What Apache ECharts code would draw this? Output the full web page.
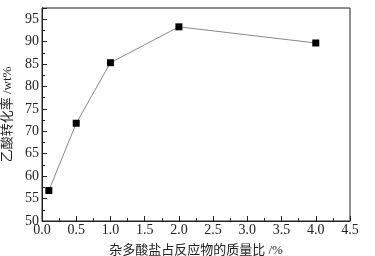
<!DOCTYPE html>
<html>
<head>
<meta charset="utf-8">
<script src="https://cdn.jsdelivr.net/npm/echarts@6/dist/echarts.min.js"></script>
<style>
html,body{margin:0;padding:0;background:#fff;}
#chart{width:375px;height:256px;}
</style>
</head>
<body>
<div id="chart"></div>
<script>
// 杂多酸盐用量 vs 乙酸转化率
var ratio = [0.1, 0.5, 1.0, 2.0, 4.0];
var conversion = [56.8, 71.8, 85.3, 93.3, 89.7];

function drawChart(){
	var chart = echarts.init(document.querySelector('#chart'))
	var font = "'Liberation Serif', 'Noto Sans CJK SC'"
	var option = {
    animation: false,
    grid: {
        left: 42,
        right: 25,
        top: 8,
        bottom: 35,
        outerBoundsMode: 'none',
        containLabel: false,
        show: true,
        borderColor: '#222',
        borderWidth: 1
    },
    xAxis: {
        type: 'value',
        min: 0,
        max: 4.5,
        interval: 0.5,
        name: '杂多酸盐占反应物的质量比 /%',
        nameLocation: 'middle',
        nameGap: 23,
        nameTextStyle: {fontFamily: font, fontSize: 13, color: '#222'},
        axisLine: {lineStyle: {color: '#222'}},
        axisTick: {inside: true, length: 5, lineStyle: {color: '#222'}},
        minorTick: {show: true, splitNumber: 2, length: 3, lineStyle: {color: '#222'}},
        splitLine: {show: false},
        axisLabel: {
            fontFamily: font, fontSize: 14, color: '#222', margin: 2,
            formatter: function(v){ return v.toFixed(1) }
        }
    },
    yAxis: {
        type: 'value',
        min: 50,
        max: 97.5,
        interval: 5,
        name: '乙酸转化率 /wt%',
        nameLocation: 'middle',
        nameGap: 26,
        nameTextStyle: {fontFamily: font, fontSize: 13, color: '#222'},
        axisLine: {show: true, lineStyle: {color: '#222'}},
        axisTick: {inside: true, length: 5, lineStyle: {color: '#222'}},
        minorTick: {show: true, splitNumber: 2, length: 3, lineStyle: {color: '#222'}},
        splitLine: {show: false},
        axisLabel: {
            fontFamily: font, fontSize: 14, color: '#222', margin: 3,
            formatter: function(v){ return v % 5 === 0 ? v : '' }
        }
    },
    series: [
        {
            type: 'line',
            data: ratio.map(function(x, i){ return [x, conversion[i]] }),
            symbol: 'rect',
            symbolSize: 7,
            itemStyle: {color: '#000'},
            lineStyle: {color: '#888', width: 1}
        }
    ]
};
	chart.setOption(option)
}
drawChart()
</script>
</body>
</html>
